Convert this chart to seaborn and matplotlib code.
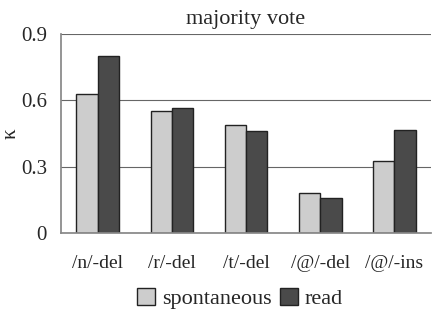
import matplotlib

matplotlib.use("Agg")
import matplotlib.pyplot as plt
import pandas as pd
import seaborn as sns

categories = ["/n/-del", "/r/-del", "/t/-del", "/@/-del", "/@/-ins"]
spontaneous = [0.63, 0.553, 0.489, 0.180, 0.326]
read = [0.80, 0.566, 0.460, 0.158, 0.466]
yticks = [0, 0.3, 0.6, 0.9]

df = pd.DataFrame({
    "category": categories * 2,
    "kappa": spontaneous + read,
    "style": ["spontaneous"] * len(categories) + ["read"] * len(categories),
})

sns.set_theme(style="white")
plt.rcParams["font.family"] = ["Liberation Serif", "DejaVu Serif"]

fig = plt.figure(figsize=(4.32, 3.13), dpi=100)
ax = fig.add_axes([0.141, 0.256, 0.857, 0.635])
sns.barplot(
    data=df, x="category", y="kappa", hue="style",
    palette={"spontaneous": "#cdcdcd", "read": "#4a4a4a"},
    width=0.58, edgecolor="#222222", linewidth=1.0, ax=ax,
)
ax.set_ylim(0, 0.9)
ax.set_yticks(yticks)
ax.set_yticklabels(["0", "0.3", "0.6", "0.9"])
ax.yaxis.grid(True, color="#666666", linewidth=0.8)
ax.set_axisbelow(True)
ax.set_xlim(-0.5, 4.5)
ax.set_xticks([i - 0.5 for i in range(6)], minor=True)
ax.tick_params(axis="x", which="minor", length=4, color="#888888", direction="out")
ax.tick_params(axis="x", which="major", length=0, pad=16, labelsize=14)
ax.tick_params(axis="y", length=0, labelsize=15, pad=10)
for side in ["left", "bottom"]:
    ax.spines[side].set_color("#888888")
for side in ["top", "right"]:
    ax.spines[side].set_visible(False)
ax.set_xlabel("")
ax.set_ylabel("κ", fontsize=15)
ax.yaxis.set_label_coords(-0.11, 0.5)
ax.set_title("majority vote", fontsize=16, pad=7)
ax.legend(
    loc="center", bbox_to_anchor=(0.484, -0.33), ncol=2, frameon=False,
    fontsize=16, handlelength=0.8, handleheight=0.8, handletextpad=0.3,
    columnspacing=0.4, borderpad=0.1,
)
fig.savefig("out.png", dpi=100)
